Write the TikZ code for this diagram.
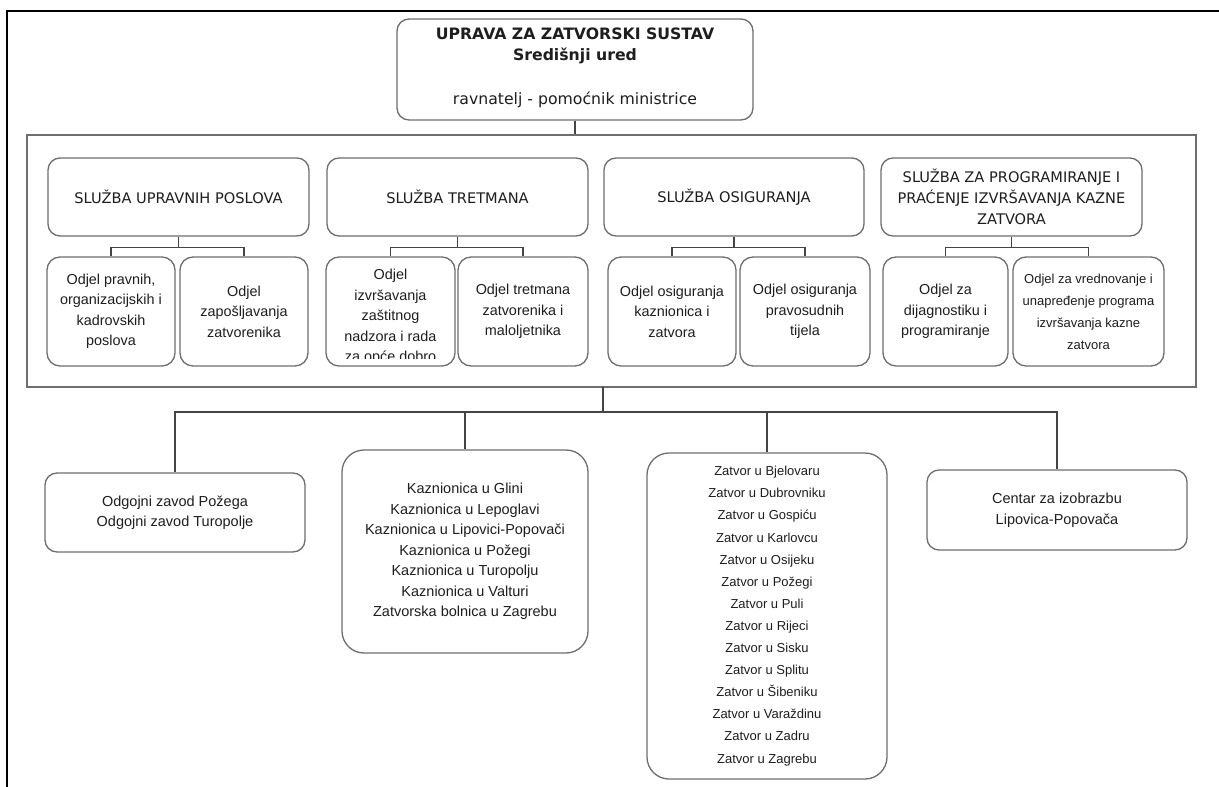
\documentclass[tikz,border=0pt]{standalone}
\usepackage{fontspec}
\setmainfont{Liberation Sans}
\newfontfamily\dvs{DejaVu Sans}
\definecolor{boxgray}{HTML}{6E6E6E}
\definecolor{linegray}{HTML}{444444}
\definecolor{txt}{HTML}{1E1E1E}
\begin{document}
\begin{tikzpicture}[x=1pt,y=-1pt,
  box/.style={draw=boxgray, line width=1.3pt, rounded corners=12pt, inner sep=0pt, align=center, text=txt},
  topfont/.style={font=\dvs\fontsize{15.7}{21}\selectfont},
  svcfont/.style={font=\dvs\fontsize{14.6}{21}\selectfont},
  childfont/.style={font=\fontsize{14.4}{20.5}\selectfont},
  smallfont/.style={font=\fontsize{13}{22}\selectfont},
  botfont/.style={font=\fontsize{14.5}{20.5}\selectfont},
  listfont/.style={font=\fontsize{13}{22.1}\selectfont},
  svc/.style={box, svcfont, minimum height=78pt},
  odj/.style={box, childfont, minimum height=109pt, rounded corners=13pt},
  conn/.style={draw=linegray, line width=1.3pt},
  plain/.style={inner sep=0pt, align=center, text=txt}
]
\useasboundingbox (0,0) rectangle (1219,787);
\fill[white] (0,0) rectangle (1219,787);
% outer frame
\draw[line width=2.2pt, black] (1219,11) -- (7,11) -- (7,787);

% top box
\node[box, topfont, minimum width=356pt, minimum height=101pt] (top) at (575,69.5) {};
\node[plain, topfont, anchor=base] (toptitle) at (575,39) {\textbf{UPRAVA ZA ZATVORSKI SUSTAV}};
\node[plain, topfont, anchor=base] (topsub) at (575,60) {\textbf{Središnji ured}};
\node[plain, topfont, anchor=base] (topdir) at (575,104) {ravnatelj - pomoćnik ministrice};

% big rectangle
\node[draw=boxgray, line width=1.3pt, inner sep=0pt, minimum width=1169pt, minimum height=252pt] (big) at (611.5,261) {};
\draw[conn] (top.south) -- (top.south |- big.north);

% services
\node[svc, minimum width=261pt] (sup) at (178.5,197) {SLUŽBA UPRAVNIH POSLOVA};
\node[svc, minimum width=261pt] (st) at (457.5,197) {SLUŽBA TRETMANA};
\node[svc, minimum width=260pt] (so) at (734,197) {SLUŽBA OSIGURANJA};
\node[svc, minimum width=261pt] (szp) at (1011.5,197) {SLUŽBA ZA PROGRAMIRANJE I\\PRAĆENJE IZVRŠAVANJA KAZNE\\ZATVORA};

% departments
\node[odj, minimum width=128pt] (sup1) at (111,311.5) {Odjel pravnih,\\organizacijskih i\\kadrovskih\\poslova};
\node[odj, minimum width=128pt] (sup2) at (244,311.5) {Odjel\\zapošljavanja\\zatvorenika};
\node[odj, minimum width=129pt] (st1) at (390.5,311.5) {};
\begin{scope}
  \clip (326,257) rectangle (455,358);
  \node[plain, childfont] (st1txt) at (390.5,317) {Odjel\\izvršavanja\\zaštitnog\\nadzora i rada\\za opće dobro};
\end{scope}
\node[odj, minimum width=130pt] (st2) at (523,311.5) {Odjel tretmana\\zatvorenika i\\maloljetnika};
\node[odj, minimum width=128pt] (so1) at (672,311.5) {Odjel osiguranja\\kaznionica i\\zatvora};
\node[odj, minimum width=130pt] (so2) at (805,311.5) {Odjel osiguranja\\pravosudnih\\tijela};
\node[odj, minimum width=125pt] (szp1) at (945.5,311.5) {Odjel za\\dijagnostiku i\\programiranje};
\node[odj, smallfont, minimum width=151pt] (szp2) at (1088.5,311.5) {Odjel za vrednovanje i\\unapređenje programa\\izvršavanja kazne\\zatvora};

\foreach \s/\a/\b in {sup/sup1/sup2, st/st1/st2, so/so1/so2, szp/szp1/szp2}{
  \draw[conn] (\s.south) -- ++(0,11) -| (\a.north);
  \draw[conn] (\s.south) -- ++(0,11) -| (\b.north);
}

% bottom units
\coordinate (hub) at (603,387);
\node[box, botfont, minimum width=260pt, minimum height=79pt] (b1) at (175,512.5) {Odgojni zavod Požega\\Odgojni zavod Turopolje};
\node[box, botfont, minimum width=246pt, minimum height=203pt, rounded corners=22pt] (b2) at (465,551.5) {Kaznionica u Glini\\Kaznionica u Lepoglavi\\Kaznionica u Lipovici-Popovači\\Kaznionica u Požegi\\Kaznionica u Turopolju\\Kaznionica u Valturi\\Zatvorska bolnica u Zagrebu};
\node[box, listfont, minimum width=240pt, minimum height=326pt, rounded corners=22pt] (b3) at (767,616) {Zatvor u Bjelovaru\\Zatvor u Dubrovniku\\Zatvor u Gospiću\\Zatvor u Karlovcu\\Zatvor u Osijeku\\Zatvor u Požegi\\Zatvor u Puli\\Zatvor u Rijeci\\Zatvor u Sisku\\Zatvor u Splitu\\Zatvor u Šibeniku\\Zatvor u Varaždinu\\Zatvor u Zadru\\Zatvor u Zagrebu};
\node[box, botfont, minimum width=260pt, minimum height=80pt] (b4) at (1057,510) {Centar za izobrazbu\\Lipovica-Popovača};

\foreach \b in {b1,b2,b3,b4}{
  \draw[conn] (hub) -- ++(0,25) -| (\b.north);
}
\end{tikzpicture}
\end{document}
